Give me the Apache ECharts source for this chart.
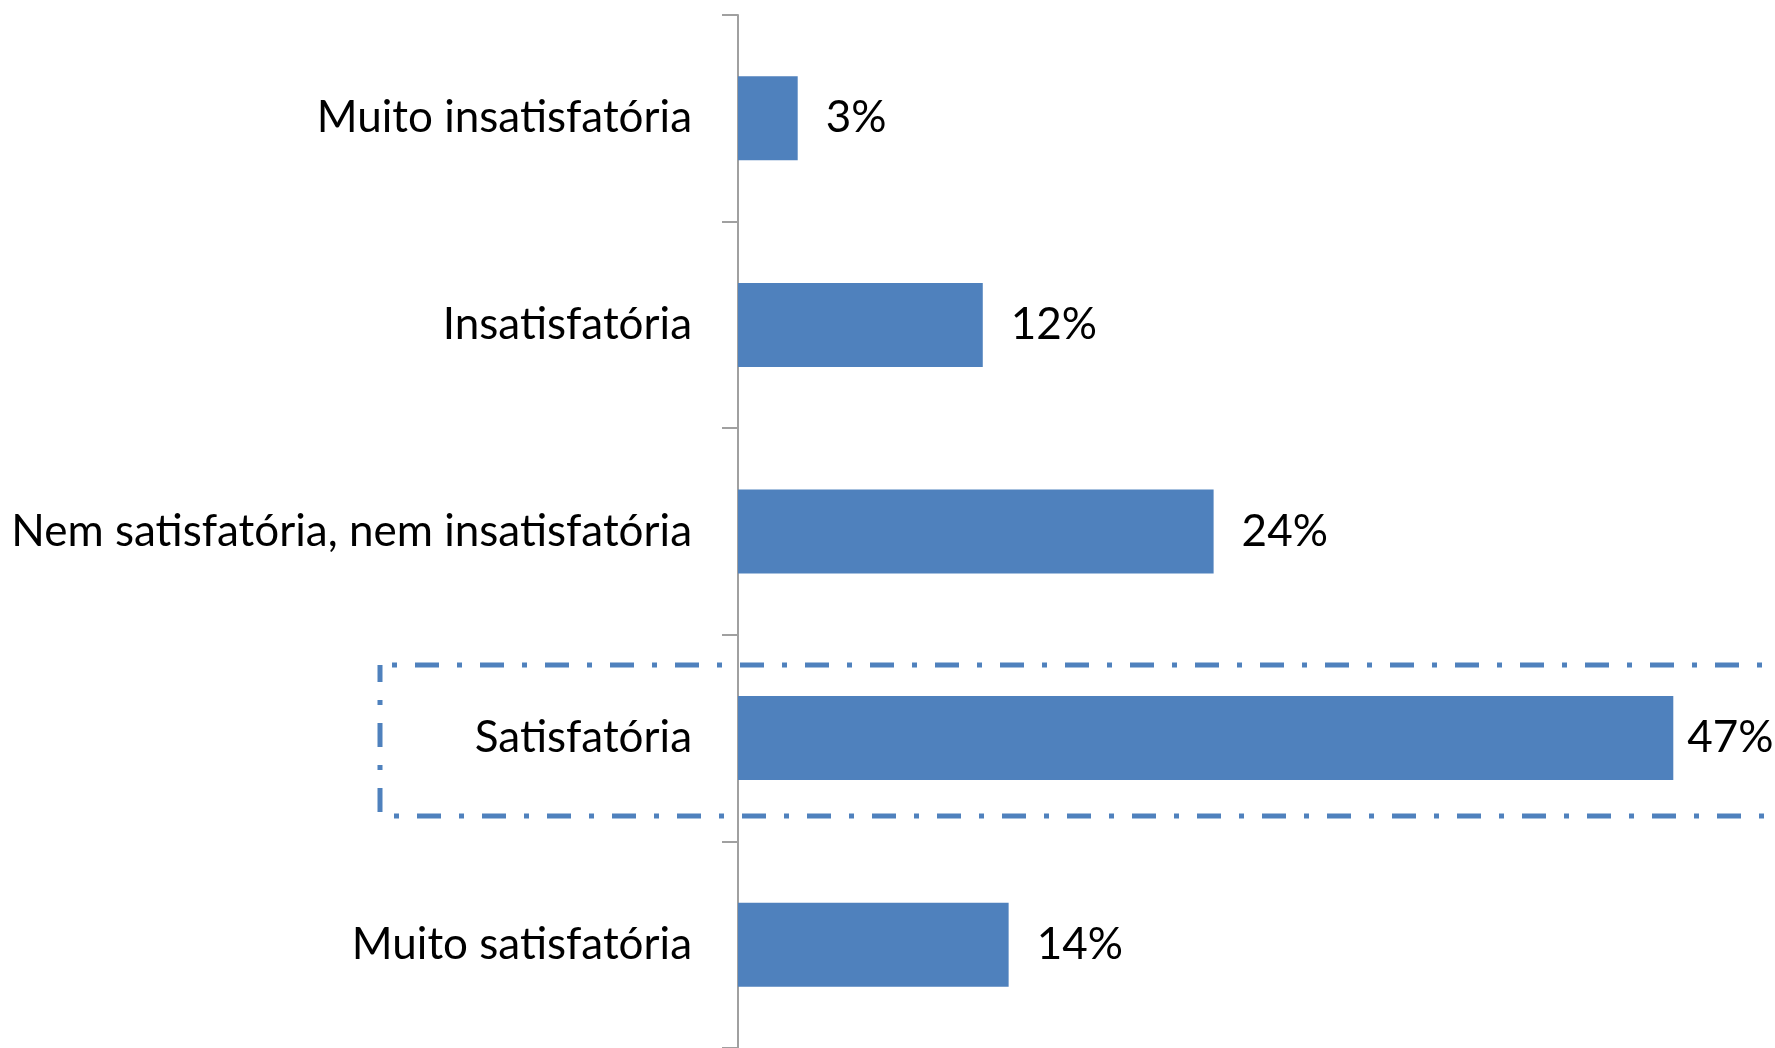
<!DOCTYPE html>
<html>
<head>
<meta charset="utf-8">
<script src="https://cdn.jsdelivr.net/npm/echarts@6/dist/echarts.min.js"></script>
<style>
  html, body { margin: 0; padding: 0; background: #fff; }
  #chart { width: 1775px; height: 1048px; }
</style>
</head>
<body>
<div id="chart"></div>
<script>
// categorias e percentuais
var categorias = [
  'Muito insatisfatória',
  'Insatisfatória',
  'Nem satisfatória, nem insatisfatória',
  'Satisfatória',
  'Muito satisfatória'
];
var percentuais = [3.0, 12.3, 23.9, 47.0, 13.6];
var destaque = 'Satisfatória';

var chartDom = document.getElementById('chart');
var myChart = echarts.init(chartDom);
var fonte = 'Lato, "Open Sans", sans-serif';

var dados = percentuais.map(function (v, i) {
  var item = { value: v };
  // o rótulo da maior barra fica mais colado nela
  if (v === Math.max.apply(null, percentuais)) {
    item.label = { distance: 14 };
  }
  return item;
});

var option = {
  animation: false,
  grid: { left: 738, right: 42, top: 15, bottom: 0, containLabel: false },
  xAxis: {
    type: 'value',
    min: 0,
    max: 50,
    show: false,
    splitLine: { show: false }
  },
  yAxis: {
    type: 'category',
    inverse: true,
    data: categorias,
    axisLine: { show: true, lineStyle: { color: '#A0A0A0', width: 2 } },
    axisTick: { show: true, length: 16, lineStyle: { color: '#A0A0A0', width: 2 } },
    axisLabel: {
      margin: 46,
      color: '#000',
      fontFamily: fonte,
      fontSize: 44
    }
  },
  series: [
    {
      type: 'bar',
      data: dados,
      barWidth: 84,
      itemStyle: { color: '#4F81BD' },
      label: {
        show: true,
        position: 'right',
        distance: 28,
        color: '#000',
        fontFamily: fonte,
        fontSize: 44,
        formatter: function (p) {
          return Math.round(p.value) + '%';
        }
      }
    }
  ]
};
myChart.setOption(option);

// retângulo tracejado em volta da categoria em destaque
var yc = myChart.convertToPixel({ yAxisIndex: 0 }, destaque);
myChart.setOption({
  graphic: [
    {
      type: 'rect',
      z: -1,
      silent: true,
      shape: { x: 380, y: yc - 73, width: 1500, height: 151 },
      style: {
        fill: 'none',
        stroke: '#4F81BD',
        lineWidth: 5,
        lineDash: [24, 18, 5, 18],
        lineDashOffset: 30
      }
    }
  ]
});

window.addEventListener('resize', function () {
  myChart.resize();
});
</script>
</body>
</html>
